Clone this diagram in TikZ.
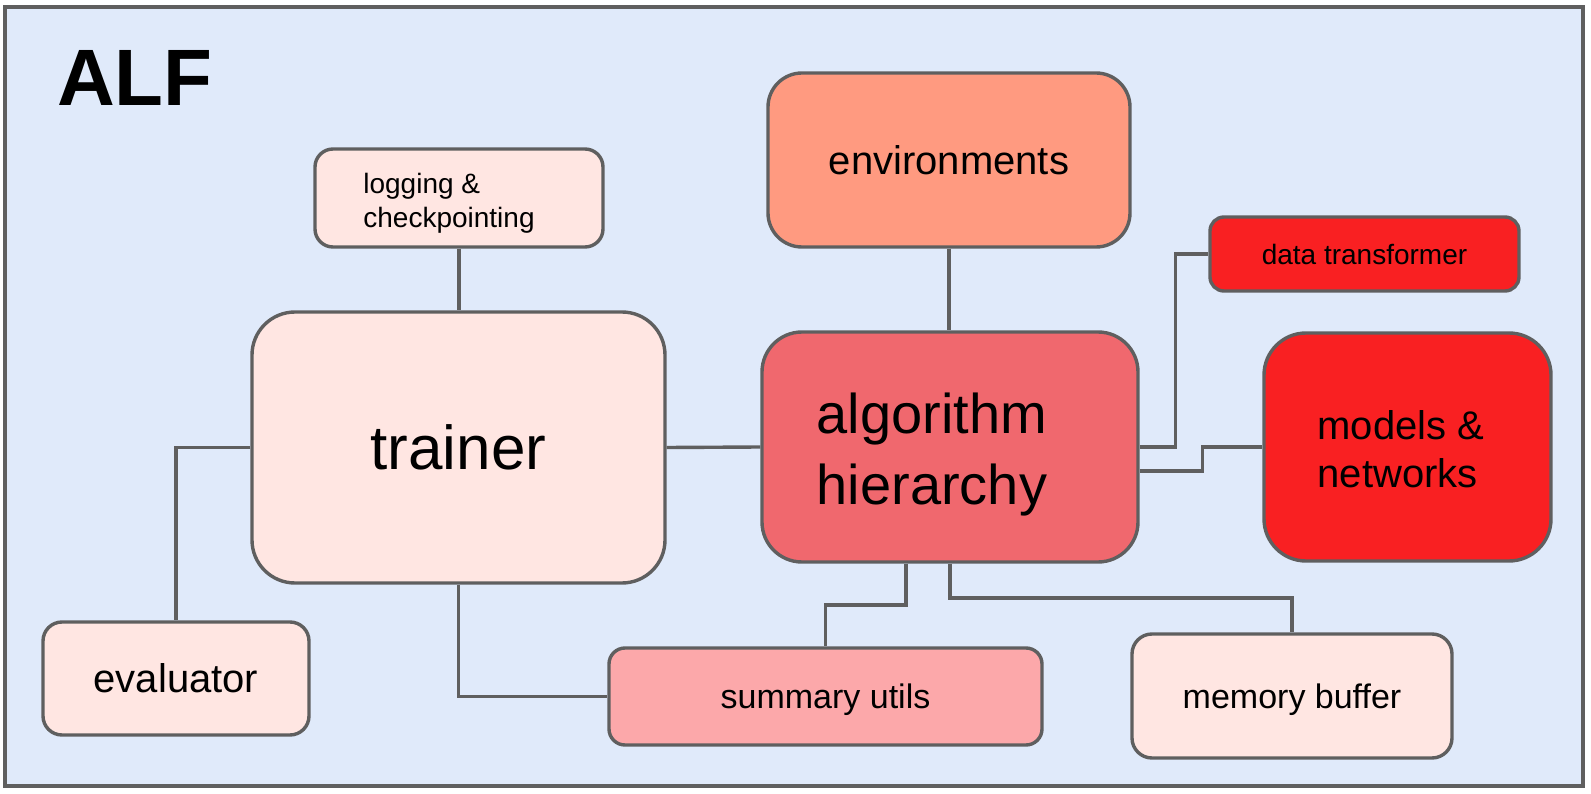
\documentclass[tikz,border=0pt]{standalone}
\usepackage{fontspec}
\setmainfont{Liberation Sans}
\usepackage{xcolor}
\definecolor{bgblue}{HTML}{E0EAFA}
\definecolor{palered}{HTML}{FFE6E2}
\definecolor{salmon}{HTML}{FF9A80}
\definecolor{rose}{HTML}{F0686E}
\definecolor{pinkish}{HTML}{FCA8AA}
\definecolor{brightred}{HTML}{F92022}
\definecolor{linegray}{HTML}{5F5F5F}
\usepackage{tikz}

\begin{document}
\begin{tikzpicture}[x=1pt,y=-1pt]
\tikzstyle{every node}+=[inner sep=0pt]
\tikzstyle{block}=[draw=linegray, line width=3.4pt, align=center]
\tikzstyle{wire}=[draw=linegray, line width=3.4pt]
\useasboundingbox (0,0) rectangle (1591,794);
\draw [wire, fill=bgblue] (5,7) rectangle (1583,786);
\node [anchor=base west, font=\fontsize{80}{92}\selectfont\bfseries] (alf) at (57,106) {ALF};
\node [block, fill=palered, rounded corners=18pt, minimum width=288pt, minimum height=98pt] (logging) at (459,198) {};
\node [align=left, font=\fontsize{28}{34}\selectfont] (loggingtext) at (449,203) {logging \&\\checkpointing};
\node [block, fill=palered, rounded corners=43pt, minimum width=413pt, minimum height=271pt, font=\fontsize{62}{72}\selectfont] (trainer) at (458.5,447.5) {trainer};
\node [block, fill=salmon, rounded corners=34pt, minimum width=362pt, minimum height=174pt, font=\fontsize{40}{48}\selectfont] (env) at (949,160) {environments};
\node [block, fill=rose, rounded corners=40pt, minimum width=376pt, minimum height=230pt] (algo) at (950,447) {};
\node [align=left, font=\fontsize{56}{71}\selectfont] (algotext) at (932,455) {algorithm\\hierarchy};
\node [block, fill=brightred, rounded corners=14pt, minimum width=309pt, minimum height=74pt, font=\fontsize{28}{34}\selectfont] (data) at (1364.5,254) {data transformer};
\node [block, fill=brightred, rounded corners=42pt, minimum width=287pt, minimum height=228pt] (models) at (1407.5,447) {};
\node [align=left, font=\fontsize{40}{48}\selectfont] (modelstext) at (1401,449) {models \&\\networks};
\node [block, fill=palered, rounded corners=19pt, minimum width=266pt, minimum height=113pt, font=\fontsize{40}{48}\selectfont] (eval) at (176,678.5) {evaluator};
\node [block, fill=pinkish, rounded corners=16pt, minimum width=433pt, minimum height=97pt, font=\fontsize{34}{41}\selectfont] (summary) at (825.5,696.5) {\raisebox{-3pt}[\height][\depth]{summary utils}};
\node [block, fill=palered, rounded corners=20pt, minimum width=320pt, minimum height=124pt, font=\fontsize{34}{41}\selectfont] (memory) at (1292,696) {\raisebox{-4pt}[\height][\depth]{memory buffer}};
\coordinate (sumbend) at (906,605);
\coordinate (membend) at (950,598);
\draw [wire] (logging.south) -- (logging.south |- trainer.north);
\draw [wire] (env.south) -- (env.south |- algo.north);
\draw [wire] (trainer.east) -- (algo.west);
\draw [wire] (trainer.west) -| (eval.north);
\draw [wire] (trainer.south) |- (summary.west);
\draw [wire] (algo.south -| sumbend) -- (sumbend) -| (summary.north);
\draw [wire] (algo.south) -- (membend) -| (memory.north);
\draw [wire] (algo.east) -- ++(36,0) |- (data.west);
\draw [wire] ([yshift=-24pt]algo.east) -- ++(63,0) |- (models.west);
\end{tikzpicture}
\end{document}
